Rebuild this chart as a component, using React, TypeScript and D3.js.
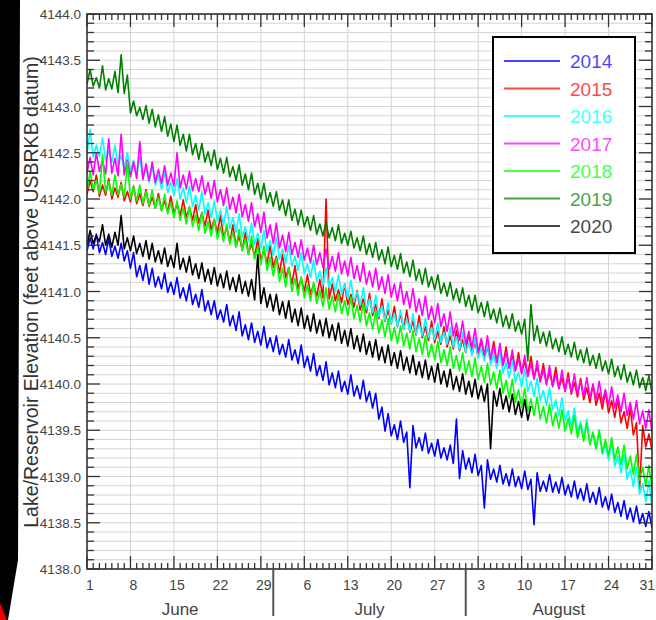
import React from "react";
import * as d3 from "d3";

// Daily low / high readings, day 0 = June 1
const years = ["2014", "2015", "2016", "2017", "2018", "2019", "2020"];
const colors = ["#0000ff", "#ff0000", "#00ffff", "#ff00ff", "#00ff00", "#008000", "#000000"];

const lo2014 = [4141.44, 4141.46, 4141.42, 4141.40, 4141.38, 4141.36, 4141.33, 4141.25, 4141.16, 4141.12,
  4141.08, 4141.05, 4141.03, 4140.99, 4140.97, 4140.93, 4140.90, 4140.86, 4140.83, 4140.79,
  4140.75, 4140.70, 4140.67, 4140.63, 4140.58, 4140.52, 4140.48, 4140.45, 4140.42, 4140.39,
  4140.35, 4140.32, 4140.29, 4140.26, 4140.22, 4140.18, 4140.14, 4140.09, 4140.04, 4139.99,
  4139.96, 4139.92, 4139.89, 4139.87, 4139.84, 4139.81, 4139.74, 4139.62, 4139.49, 4139.44,
  4139.40, 4139.37, 4138.88, 4139.31, 4139.28, 4139.25, 4139.22, 4139.20, 4139.18, 4139.14,
  4138.98, 4139.08, 4139.04, 4139.01, 4138.66, 4138.97, 4138.94, 4138.92, 4138.90, 4138.89,
  4138.87, 4138.86, 4138.48, 4138.84, 4138.84, 4138.83, 4138.82, 4138.80, 4138.78, 4138.76,
  4138.74, 4138.72, 4138.70, 4138.67, 4138.64, 4138.61, 4138.57, 4138.54, 4138.51, 4138.49,
  4138.46, 4138.45];
const hi2014 = [4141.58, 4141.62, 4141.53, 4141.57, 4141.49, 4141.52, 4141.44, 4141.42, 4141.28, 4141.30,
  4141.25, 4141.16, 4141.20, 4141.10, 4141.15, 4141.04, 4141.08, 4140.97, 4141.02, 4140.90,
  4140.90, 4140.80, 4140.86, 4140.74, 4140.78, 4140.64, 4140.66, 4140.57, 4140.62, 4140.50,
  4140.52, 4140.43, 4140.48, 4140.37, 4140.42, 4140.30, 4140.33, 4140.20, 4140.24, 4140.12,
  4140.14, 4140.03, 4140.10, 4139.98, 4140.04, 4139.92, 4139.90, 4139.75, 4139.68, 4139.56,
  4139.60, 4139.48, 4139.55, 4139.42, 4139.47, 4139.36, 4139.40, 4139.31, 4139.34, 4139.62,
  4139.28, 4139.20, 4139.24, 4139.12, 4139.18, 4139.08, 4139.12, 4139.03, 4139.08, 4139.00,
  4139.06, 4138.97, 4139.04, 4138.95, 4139.02, 4138.94, 4138.99, 4138.91, 4138.95, 4138.87,
  4138.92, 4138.83, 4138.88, 4138.78, 4138.81, 4138.72, 4138.74, 4138.66, 4138.68, 4138.60,
  4138.62, 4138.56];

const lo2015 = [4142.05, 4142.08, 4142.03, 4142.04, 4142.00, 4142.02, 4141.98, 4141.97, 4141.95, 4141.93,
  4141.92, 4141.90, 4141.88, 4141.86, 4141.84, 4141.82, 4141.80, 4141.77, 4141.74, 4141.71,
  4141.67, 4141.63, 4141.58, 4141.53, 4141.49, 4141.45, 4141.41, 4141.37, 4141.33, 4141.30,
  4141.26, 4141.20, 4141.15, 4141.08, 4141.03, 4141.00, 4140.97, 4140.95, 4140.93, 4140.92,
  4140.90, 4140.88, 4140.86, 4140.83, 4140.80, 4140.77, 4140.74, 4140.71, 4140.68, 4140.65,
  4140.62, 4140.59, 4140.56, 4140.53, 4140.50, 4140.47, 4140.45, 4140.43, 4140.40, 4140.38,
  4140.36, 4140.34, 4140.32, 4140.30, 4140.28, 4140.26, 4140.24, 4140.21, 4140.18, 4140.15,
  4140.12, 4140.10, 4140.07, 4140.04, 4140.01, 4139.98, 4139.95, 4139.92, 4139.89, 4139.86,
  4139.83, 4139.80, 4139.77, 4139.73, 4139.69, 4139.64, 4139.58, 4139.52, 4139.45, 4138.86,
  4139.32, 4139.28];
const hi2015 = [4142.20, 4142.26, 4142.15, 4142.22, 4142.12, 4142.18, 4142.08, 4142.14, 4142.06, 4142.10,
  4142.02, 4142.06, 4141.98, 4142.03, 4141.95, 4141.99, 4141.91, 4141.94, 4141.85, 4141.88,
  4141.78, 4141.82, 4141.70, 4141.72, 4141.60, 4141.64, 4141.52, 4141.57, 4141.45, 4141.50,
  4141.38, 4141.40, 4141.26, 4141.28, 4141.14, 4141.18, 4141.08, 4141.13, 4142.00, 4141.08,
  4141.02, 4141.08, 4140.97, 4141.01, 4140.92, 4140.98, 4140.86, 4140.92, 4140.80, 4140.84,
  4140.76, 4140.80, 4140.68, 4140.74, 4140.62, 4140.68, 4140.57, 4140.62, 4140.52, 4140.58,
  4140.48, 4140.55, 4140.45, 4140.48, 4140.40, 4140.46, 4140.36, 4140.40, 4140.30, 4140.34,
  4140.24, 4140.30, 4140.19, 4140.22, 4140.13, 4140.18, 4140.07, 4140.12, 4140.02, 4140.06,
  4139.96, 4140.00, 4139.90, 4139.92, 4139.82, 4139.84, 4139.70, 4139.74, 4139.58, 4139.55,
  4139.46, 4139.48];

const lo2016 = [4142.48, 4142.45, 4142.46, 4142.42, 4142.40, 4142.36, 4142.34, 4142.30, 4142.26, 4142.22,
  4142.18, 4142.15, 4142.11, 4142.07, 4142.04, 4142.00, 4141.96, 4141.92, 4141.88, 4141.84,
  4141.80, 4141.76, 4141.72, 4141.68, 4141.64, 4141.59, 4141.55, 4141.51, 4141.47, 4141.43,
  4141.39, 4141.35, 4141.31, 4141.27, 4141.23, 4141.19, 4141.15, 4141.11, 4141.07, 4141.04,
  4141.00, 4140.97, 4140.93, 4140.89, 4140.85, 4140.81, 4140.77, 4140.73, 4140.69, 4140.65,
  4140.62, 4140.59, 4140.57, 4140.54, 4140.52, 4140.50, 4140.48, 4140.45, 4140.43, 4140.40,
  4140.37, 4140.34, 4140.31, 4140.28, 4140.25, 4140.21, 4140.17, 4140.12, 4140.07, 4140.02,
  4139.97, 4139.92, 4139.87, 4139.82, 4139.77, 4139.72, 4139.66, 4139.60, 4139.54, 4139.48,
  4139.42, 4139.36, 4139.30, 4139.24, 4139.18, 4139.11, 4139.04, 4138.97, 4138.89, 4138.81,
  4138.73, 4138.66];
const hi2016 = [4142.75, 4142.58, 4142.66, 4142.52, 4142.58, 4142.47, 4142.50, 4142.42, 4142.45, 4142.34,
  4142.36, 4142.26, 4142.30, 4142.18, 4142.22, 4142.12, 4142.14, 4142.04, 4142.08, 4141.96,
  4141.98, 4141.88, 4141.92, 4141.80, 4141.84, 4141.70, 4141.74, 4141.63, 4141.66, 4141.55,
  4141.58, 4141.46, 4141.50, 4141.38, 4141.42, 4141.30, 4141.34, 4141.22, 4141.26, 4141.15,
  4141.18, 4141.08, 4141.12, 4141.00, 4141.04, 4140.92, 4140.96, 4140.84, 4140.88, 4140.76,
  4140.80, 4140.70, 4140.76, 4140.65, 4140.71, 4140.61, 4140.66, 4140.56, 4140.61, 4140.51,
  4140.56, 4140.45, 4140.50, 4140.39, 4140.44, 4140.32, 4140.36, 4140.23, 4140.26, 4140.13,
  4140.16, 4140.03, 4140.06, 4139.93, 4139.96, 4139.83, 4139.85, 4139.71, 4139.74, 4139.59,
  4139.62, 4139.47, 4139.50, 4139.35, 4139.38, 4139.22, 4139.24, 4139.08, 4139.10, 4138.92,
  4138.95, 4138.78];

const lo2017 = [4142.28, 4142.26, 4142.30, 4142.27, 4142.28, 4142.25, 4142.26, 4142.24, 4142.22, 4142.21,
  4142.20, 4142.18, 4142.17, 4142.15, 4142.14, 4142.12, 4142.11, 4142.09, 4142.08, 4142.05,
  4142.01, 4141.97, 4141.93, 4141.89, 4141.85, 4141.81, 4141.76, 4141.70, 4141.64, 4141.58,
  4141.52, 4141.47, 4141.43, 4141.40, 4141.37, 4141.34, 4141.31, 4141.29, 4141.26, 4141.24,
  4141.22, 4141.19, 4141.17, 4141.14, 4141.11, 4141.08, 4141.05, 4141.02, 4140.98, 4140.94,
  4140.90, 4140.86, 4140.82, 4140.78, 4140.74, 4140.70, 4140.66, 4140.62, 4140.57, 4140.52,
  4140.47, 4140.43, 4140.39, 4140.35, 4140.31, 4140.27, 4140.23, 4140.20, 4140.17, 4140.14,
  4140.11, 4140.08, 4140.05, 4140.02, 4139.99, 4139.97, 4139.95, 4139.93, 4139.91, 4139.89,
  4139.87, 4139.85, 4139.83, 4139.80, 4139.77, 4139.74, 4139.70, 4139.66, 4139.62, 4139.57,
  4139.52, 4139.48];
const hi2017 = [4142.45, 4142.50, 4142.42, 4142.65, 4142.44, 4142.70, 4142.42, 4142.40, 4142.62, 4142.38,
  4142.40, 4142.32, 4142.36, 4142.28, 4142.50, 4142.26, 4142.30, 4142.22, 4142.25, 4142.18,
  4142.20, 4142.10, 4142.12, 4142.02, 4142.05, 4141.94, 4141.96, 4141.84, 4141.86, 4141.72,
  4141.74, 4141.61, 4141.64, 4141.53, 4141.56, 4141.47, 4141.50, 4141.42, 4141.46, 4141.38,
  4141.42, 4141.33, 4141.37, 4141.28, 4141.31, 4141.22, 4141.25, 4141.16, 4141.18, 4141.08,
  4141.10, 4141.00, 4141.03, 4140.92, 4140.95, 4140.84, 4140.87, 4140.76, 4140.78, 4140.66,
  4140.68, 4140.57, 4140.60, 4140.49, 4140.52, 4140.41, 4140.44, 4140.34, 4140.37, 4140.28,
  4140.31, 4140.22, 4140.25, 4140.16, 4140.20, 4140.11, 4140.15, 4140.07, 4140.11, 4140.03,
  4140.07, 4139.99, 4140.03, 4139.94, 4139.97, 4139.88, 4139.90, 4139.80, 4139.82, 4139.71,
  4139.72, 4139.62];

const lo2018 = [4142.08, 4142.10, 4142.06, 4142.07, 4142.04, 4142.05, 4142.02, 4142.00, 4141.98, 4141.95,
  4141.93, 4141.90, 4141.87, 4141.84, 4141.80, 4141.77, 4141.73, 4141.70, 4141.66, 4141.63,
  4141.60, 4141.57, 4141.54, 4141.51, 4141.48, 4141.44, 4141.40, 4141.35, 4141.29, 4141.23,
  4141.17, 4141.11, 4141.05, 4141.00, 4140.96, 4140.93, 4140.90, 4140.87, 4140.84, 4140.81,
  4140.78, 4140.76, 4140.74, 4140.71, 4140.67, 4140.63, 4140.59, 4140.55, 4140.51, 4140.47,
  4140.44, 4140.41, 4140.38, 4140.35, 4140.32, 4140.29, 4140.26, 4140.23, 4140.20, 4140.17,
  4140.14, 4140.11, 4140.08, 4140.05, 4140.02, 4139.99, 4139.95, 4139.90, 4139.85, 4139.80,
  4139.75, 4139.70, 4139.66, 4139.62, 4139.58, 4139.55, 4139.52, 4139.49, 4139.46, 4139.42,
  4139.38, 4139.34, 4139.30, 4139.26, 4139.22, 4139.18, 4139.13, 4139.08, 4139.02, 4138.96,
  4138.90, 4138.86];
const hi2018 = [4142.30, 4142.20, 4142.48, 4142.19, 4142.26, 4142.16, 4142.40, 4142.13, 4142.15, 4142.08,
  4142.10, 4142.02, 4142.05, 4141.96, 4141.98, 4141.90, 4141.92, 4141.83, 4141.86, 4141.76,
  4141.78, 4141.70, 4141.73, 4141.64, 4141.67, 4141.57, 4141.60, 4141.48, 4141.49, 4141.37,
  4141.36, 4141.25, 4141.26, 4141.14, 4141.16, 4141.07, 4141.10, 4141.01, 4141.04, 4140.95,
  4140.97, 4140.90, 4140.94, 4140.85, 4140.87, 4140.77, 4140.79, 4140.69, 4140.71, 4140.61,
  4140.63, 4140.55, 4140.58, 4140.49, 4140.52, 4140.43, 4140.46, 4140.37, 4140.40, 4140.31,
  4140.34, 4140.25, 4140.28, 4140.19, 4140.22, 4140.13, 4140.15, 4140.04, 4140.05, 4139.94,
  4139.95, 4139.84, 4139.86, 4139.76, 4139.78, 4139.69, 4139.72, 4139.63, 4139.66, 4139.56,
  4139.58, 4139.48, 4139.50, 4139.40, 4139.42, 4139.32, 4139.34, 4139.22, 4139.24, 4139.10,
  4139.12, 4139.00];

const lo2019 = [4143.24, 4143.22, 4143.20, 4143.18, 4143.19, 4143.15, 4143.14, 4142.93, 4142.90, 4142.86,
  4142.82, 4142.78, 4142.73, 4142.68, 4142.62, 4142.58, 4142.52, 4142.48, 4142.43, 4142.40,
  4142.36, 4142.32, 4142.28, 4142.24, 4142.20, 4142.15, 4142.10, 4142.05, 4142.00, 4141.96,
  4141.92, 4141.88, 4141.82, 4141.77, 4141.72, 4141.70, 4141.66, 4141.62, 4141.60, 4141.58,
  4141.55, 4141.52, 4141.50, 4141.47, 4141.44, 4141.40, 4141.37, 4141.34, 4141.30, 4141.27,
  4141.24, 4141.20, 4141.16, 4141.12, 4141.08, 4141.05, 4141.02, 4140.98, 4140.95, 4140.91,
  4140.88, 4140.84, 4140.80, 4140.77, 4140.73, 4140.70, 4140.66, 4140.62, 4140.60, 4140.57,
  4140.54, 4140.25, 4140.47, 4140.44, 4140.41, 4140.38, 4140.35, 4140.32, 4140.29, 4140.26,
  4140.23, 4140.20, 4140.17, 4140.14, 4140.11, 4140.08, 4140.05, 4140.02, 4139.99, 4139.96,
  4139.93, 4139.90];
const hi2019 = [4143.40, 4143.31, 4143.44, 4143.30, 4143.38, 4143.56, 4143.34, 4143.06, 4142.99, 4143.01,
  4142.97, 4142.91, 4142.89, 4142.81, 4142.80, 4142.70, 4142.70, 4142.60, 4142.60, 4142.51,
  4142.53, 4142.44, 4142.45, 4142.35, 4142.37, 4142.27, 4142.28, 4142.17, 4142.17, 4142.07,
  4142.08, 4141.99, 4141.99, 4141.89, 4141.88, 4141.81, 4141.82, 4141.73, 4141.75, 4141.69,
  4141.72, 4141.63, 4141.65, 4141.58, 4141.60, 4141.52, 4141.53, 4141.45, 4141.48, 4141.39,
  4141.41, 4141.32, 4141.34, 4141.24, 4141.25, 4141.16, 4141.18, 4141.09, 4141.10, 4141.03,
  4141.04, 4140.96, 4140.96, 4140.88, 4140.89, 4140.81, 4140.82, 4140.74, 4140.76, 4140.68,
  4140.70, 4140.86, 4140.63, 4140.56, 4140.57, 4140.49, 4140.51, 4140.43, 4140.45, 4140.37,
  4140.39, 4140.31, 4140.33, 4140.25, 4140.27, 4140.19, 4140.21, 4140.13, 4140.15, 4140.07,
  4140.09, 4140.01];

const lo2020 = [4141.50, 4141.52, 4141.54, 4141.50, 4141.48, 4141.50, 4141.46, 4141.44, 4141.41, 4141.38,
  4141.35, 4141.32, 4141.30, 4141.27, 4141.26, 4141.24, 4141.21, 4141.18, 4141.14, 4141.11,
  4141.08, 4141.06, 4141.04, 4141.02, 4141.00, 4140.98, 4140.95, 4140.91, 4140.87, 4140.83,
  4140.79, 4140.75, 4140.71, 4140.67, 4140.63, 4140.60, 4140.57, 4140.55, 4140.52, 4140.50,
  4140.47, 4140.44, 4140.41, 4140.38, 4140.35, 4140.32, 4140.29, 4140.26, 4140.23, 4140.20,
  4140.17, 4140.15, 4140.12, 4140.10, 4140.07, 4140.05, 4140.02, 4140.00, 4139.97, 4139.94,
  4139.92, 4139.89, 4139.86, 4139.84, 4139.81, 4139.30, 4139.76, 4139.73, 4139.70, 4139.67,
  4139.64, 4139.61];
const hi2020 = [4141.66, 4141.60, 4141.72, 4141.62, 4141.64, 4141.82, 4141.58, 4141.60, 4141.52, 4141.55,
  4141.52, 4141.44, 4141.47, 4141.39, 4141.52, 4141.36, 4141.38, 4141.30, 4141.31, 4141.24,
  4141.26, 4141.19, 4141.22, 4141.15, 4141.18, 4141.11, 4141.13, 4141.40, 4141.04, 4140.97,
  4140.97, 4140.89, 4140.90, 4140.81, 4140.82, 4140.74, 4140.76, 4140.69, 4140.71, 4140.64,
  4140.66, 4140.58, 4140.60, 4140.52, 4140.54, 4140.46, 4140.48, 4140.40, 4140.42, 4140.34,
  4140.36, 4140.29, 4140.31, 4140.24, 4140.26, 4140.19, 4140.22, 4140.14, 4140.16, 4140.08,
  4140.11, 4140.03, 4140.05, 4139.98, 4140.00, 4139.92, 4139.95, 4139.87, 4139.89, 4139.81,
  4139.83, 4139.76];

const lows = [lo2014, lo2015, lo2016, lo2017, lo2018, lo2019, lo2020];
const highs = [hi2014, hi2015, hi2016, hi2017, hi2018, hi2019, hi2020];

const dayLabels = ["1", "8", "15", "22", "29", "6", "13", "20", "27", "3", "10", "17", "24", "31"];
const months = ["June", "July", "August"];
const monthStarts = [0, 30, 61, 91];
const yMajor = [4138.0, 4138.5, 4139.0, 4139.5, 4140.0, 4140.5, 4141.0, 4141.5, 4142.0, 4142.5, 4143.0, 4143.5, 4144.0];

const L = 87, R = 652, T = 14, B = 569;
const x = d3.scaleLinear().domain([0, 91]).range([L, R]);
const y = d3.scaleLinear().domain([4138, 4144]).range([B, T]);
const FONT = "'Liberation Sans', Arial, Helvetica, sans-serif";

export default function App() {
  const days = d3.range(0, 92);
  const yMinor = d3.range(0, 61).map((i) => 4138 + i * 0.1);
  const line = d3.line<[number, number]>().x((p) => x(p[0])).y((p) => y(p[1]));

  const paths = lows.map((lo, k) => {
    const hi = highs[k];
    const pts: [number, number][] = [];
    lo.forEach((v, d) => {
      pts.push([d, v]);
      pts.push([d + 0.5, hi[d]]);
    });
    return line(pts) as string;
  });

  return (
    <svg width={656} height={620} style={{ position: "absolute", left: 0, top: 0, background: "#fff" }} fontFamily={FONT}>
      <defs>
        <clipPath id="plot">
          <rect x={L} y={T} width={R - L} height={B - T} />
        </clipPath>
      </defs>
      <rect width={656} height={620} fill="#fff" />

      {/* grid */}
      <g stroke="#d4d4d4" strokeWidth={1}>
        {yMinor.map((v, i) => (
          <line key={"gy" + i} x1={L} x2={R} y1={y(v)} y2={y(v)} />
        ))}
        {days.filter((d) => d % 7 === 0 && d > 0 && d < 91).map((d) => (
          <line key={"gx" + d} x1={x(d)} x2={x(d)} y1={T} y2={B} />
        ))}
      </g>

      {/* series */}
      <g clipPath="url(#plot)" fill="none" strokeWidth={1.6} strokeLinejoin="round">
        {paths.map((p, k) => (
          <path key={years[k]} d={p} stroke={colors[k]} />
        ))}
      </g>

      {/* frame and ticks */}
      <g stroke="#333" strokeWidth={1.3} fill="none">
        <rect x={L} y={T} width={R - L} height={B - T} strokeWidth={1.6} />
        {days.map((d) => {
          const len = d % 7 === 0 ? 13 : 6;
          return (
            <g key={"tx" + d}>
              <line x1={x(d)} x2={x(d)} y1={B} y2={B - len} />
              <line x1={x(d)} x2={x(d)} y1={T} y2={T + len} />
            </g>
          );
        })}
        {yMinor.map((v, i) => {
          const len = i % 5 === 0 ? 13 : 7;
          return (
            <g key={"ty" + i}>
              <line x1={L} x2={L + len} y1={y(v)} y2={y(v)} />
              <line x1={R} x2={R - len} y1={y(v)} y2={y(v)} />
            </g>
          );
        })}
        {monthStarts.slice(1, 3).map((d) => (
          <line key={"ms" + d} x1={x(d)} x2={x(d)} y1={B} y2={616} stroke="#555" strokeWidth={2} />
        ))}
      </g>

      {/* tick labels */}
      <g fill="#444" fontSize={13.5}>
        {yMajor.map((v) => (
          <text key={"yl" + v} x={81} y={y(v) + 5} textAnchor="end">
            {v.toFixed(1)}
          </text>
        ))}
        {dayLabels.map((t, i) => {
          const last = i === dayLabels.length - 1;
          return (
            <text
              key={"xl" + i}
              x={last ? 655 : x(i * 7) + 3}
              y={590}
              textAnchor={last ? "end" : "middle"}
              fontSize={14}
            >
              {t}
            </text>
          );
        })}
        {months.map((m, i) => (
          <text key={m} x={x((monthStarts[i] + monthStarts[i + 1]) / 2)} y={615} textAnchor="middle" fontSize={17}>
            {m}
          </text>
        ))}
      </g>

      <text transform="translate(38,292) rotate(-90)" textAnchor="middle" fontSize={19.5} fill="#333">
        Lake/Reservoir Elevation (feet above USBRKB datum)
      </text>

      {/* legend */}
      <g>
        <rect x={493} y={37} width={142} height={216} fill="#fff" stroke="#000" strokeWidth={2} />
        {years.map((yr, k) => (
          <g key={"lg" + yr} opacity={0.72}>
            <line x1={504} x2={560} y1={61 + k * 27.5} y2={61 + k * 27.5} stroke={colors[k]} strokeWidth={2} />
            <text x={570} y={61 + k * 27.5 + 7} fontSize={19} fill={colors[k]}>
              {yr}
            </text>
          </g>
        ))}
      </g>

      {/* left edge band */}
      <polygon points="0,0 20,0 18,560 8,620 0,620" fill="#000" />
      <polygon points="0,603 7,620 0,620" fill="#e00" />
    </svg>
  );
}
